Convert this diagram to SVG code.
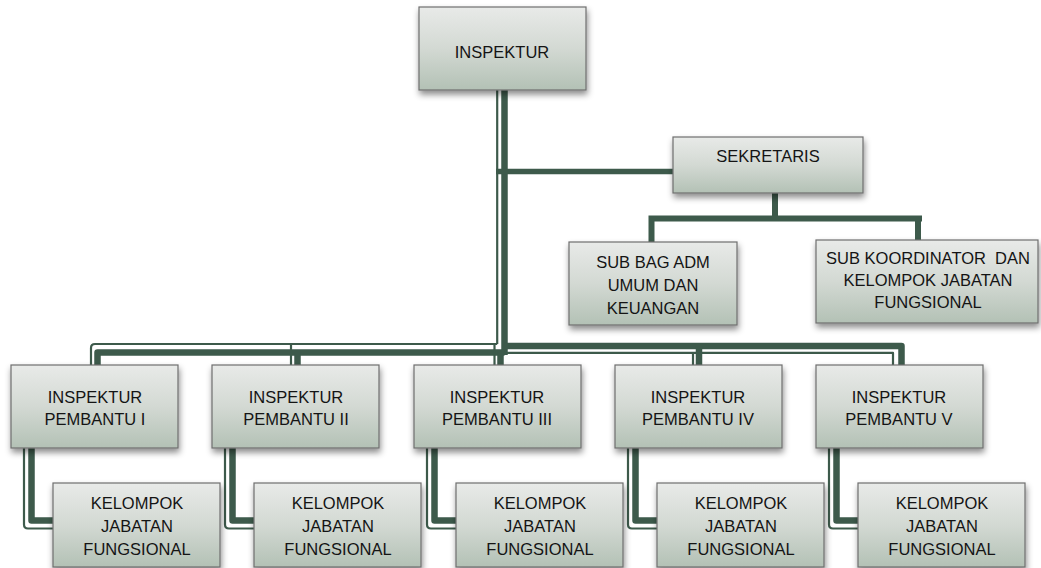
<svg xmlns="http://www.w3.org/2000/svg" width="1041" height="568" viewBox="0 0 1041 568">
<defs>
<linearGradient id="g" x1="0" y1="0" x2="0" y2="1">
<stop offset="0" stop-color="#e8eae8"/>
<stop offset="0.5" stop-color="#d3d9d3"/>
<stop offset="1" stop-color="#b3c1b5"/>
</linearGradient>
<filter id="sh" x="-10%" y="-10%" width="125%" height="135%">
<feDropShadow dx="1" dy="4" stdDeviation="3" flood-color="#000" flood-opacity="0.45"/>
</filter>
</defs>
<style>
.box{fill:url(#g);stroke:#6e6e6e;stroke-width:1.2;filter:url(#sh)}
.t{font-family:"Liberation Sans",Arial,sans-serif;font-size:16.5px;fill:#141414;text-anchor:middle;dominant-baseline:central}
.k{fill:none;stroke:#3d5a4b;stroke-linejoin:round;stroke-linecap:butt}
.thick{stroke-width:6.5}
.thin{stroke-width:2.2}
</style>
<rect width="1041" height="568" fill="#fff"/>
<g id="connectors">
<!-- trunk -->
<line class="k thick" x1="504.5" y1="90" x2="504.5" y2="355"/>
<line class="k thin" x1="497.2" y1="90" x2="497.2" y2="344"/>
<!-- sekretaris link -->
<line class="k" stroke-width="5.5" x1="496" y1="171.5" x2="673" y2="171.5"/>
<!-- sekretaris children -->
<path class="k" stroke-width="6" d="M775 193 V218.5 M648.5 218.5 H922 M651.5 218.5 V242 M918 218.5 V240"/>
<!-- left bus -->
<path class="k thick" d="M504.5 352.5 H97.5 V365"/>
<path class="k thin" d="M497.2 344 H95 Q91 344 91 348 V365"/>
<line class="k thick" x1="297.5" y1="352" x2="297.5" y2="365"/>
<line class="k thin" x1="291" y1="344" x2="291" y2="365"/>
<line class="k thick" x1="500.5" y1="352" x2="500.5" y2="365"/>
<line class="k thin" x1="494.5" y1="344" x2="494.5" y2="365"/>
<!-- right bus -->
<path class="k thick" d="M504.5 346 H901.5 V365"/>
<path class="k thin" d="M504.5 352.8 H893 V365"/>
<line class="k thick" x1="699" y1="346" x2="699" y2="365"/>
<line class="k thin" x1="693" y1="352.8" x2="693" y2="365"/>
<!-- pembantu to kelompok -->
<path class="k thick" d="M31.5 448 V520.5 H53"/>
<path class="k thin" d="M24 448 V524.5 Q24 528.5 28 528.5 H53"/>
<path class="k thick" d="M232.5 448 V520.5 H254"/>
<path class="k thin" d="M225 448 V524.5 Q225 528.5 229 528.5 H254"/>
<path class="k thick" d="M434.5 448 V520.5 H456"/>
<path class="k thin" d="M427 448 V524.5 Q427 528.5 431 528.5 H456"/>
<path class="k thick" d="M635.5 448 V520.5 H657"/>
<path class="k thin" d="M628 448 V524.5 Q628 528.5 632 528.5 H657"/>
<path class="k thick" d="M836.5 448 V520.5 H858"/>
<path class="k thin" d="M829 448 V524.5 Q829 528.5 833 528.5 H858"/>
</g>
<g id="inspektur"><rect class="box" x="419" y="7" width="167" height="83"/><text class="t" x="502" y="52">INSPEKTUR</text></g>
<g id="sekretaris"><rect class="box" x="673" y="137" width="190" height="56"/><text class="t" x="768" y="156">SEKRETARIS</text></g>
<g id="subbag"><rect class="box" x="569" y="242" width="168" height="83"/>
<text class="t" x="653" y="262">SUB BAG ADM</text><text class="t" x="653" y="285">UMUM DAN</text><text class="t" x="653" y="308">KEUANGAN</text></g>
<g id="subkoord"><rect class="box" x="816" y="240" width="222" height="83"/>
<text class="t" x="928" y="258" xml:space="preserve">SUB KOORDINATOR  DAN</text><text class="t" x="928" y="280">KELOMPOK JABATAN</text><text class="t" x="928" y="302">FUNGSIONAL</text></g>
<g id="pembantu1"><rect class="box" x="11" y="365" width="167" height="83"/><text class="t" x="95" y="397">INSPEKTUR</text><text class="t" x="95" y="419">PEMBANTU I</text></g>
<g id="pembantu2"><rect class="box" x="212" y="365" width="167" height="83"/><text class="t" x="296" y="397">INSPEKTUR</text><text class="t" x="296" y="419">PEMBANTU II</text></g>
<g id="pembantu3"><rect class="box" x="414" y="365" width="167" height="83"/><text class="t" x="497" y="397">INSPEKTUR</text><text class="t" x="497" y="419">PEMBANTU III</text></g>
<g id="pembantu4"><rect class="box" x="615" y="365" width="167" height="83"/><text class="t" x="698" y="397">INSPEKTUR</text><text class="t" x="698" y="419">PEMBANTU IV</text></g>
<g id="pembantu5"><rect class="box" x="816" y="365" width="167" height="83"/><text class="t" x="899" y="397">INSPEKTUR</text><text class="t" x="899" y="419">PEMBANTU V</text></g>
<g id="kelompok1"><rect class="box" x="53" y="483" width="167" height="84"/><text class="t" x="137" y="503">KELOMPOK</text><text class="t" x="137" y="526">JABATAN</text><text class="t" x="137" y="549">FUNGSIONAL</text></g>
<g id="kelompok2"><rect class="box" x="254" y="483" width="167" height="84"/><text class="t" x="338" y="503">KELOMPOK</text><text class="t" x="338" y="526">JABATAN</text><text class="t" x="338" y="549">FUNGSIONAL</text></g>
<g id="kelompok3"><rect class="box" x="456" y="483" width="167" height="84"/><text class="t" x="540" y="503">KELOMPOK</text><text class="t" x="540" y="526">JABATAN</text><text class="t" x="540" y="549">FUNGSIONAL</text></g>
<g id="kelompok4"><rect class="box" x="657" y="483" width="167" height="84"/><text class="t" x="741" y="503">KELOMPOK</text><text class="t" x="741" y="526">JABATAN</text><text class="t" x="741" y="549">FUNGSIONAL</text></g>
<g id="kelompok5"><rect class="box" x="858" y="483" width="167" height="84"/><text class="t" x="942" y="503">KELOMPOK</text><text class="t" x="942" y="526">JABATAN</text><text class="t" x="942" y="549">FUNGSIONAL</text></g>
</svg>
